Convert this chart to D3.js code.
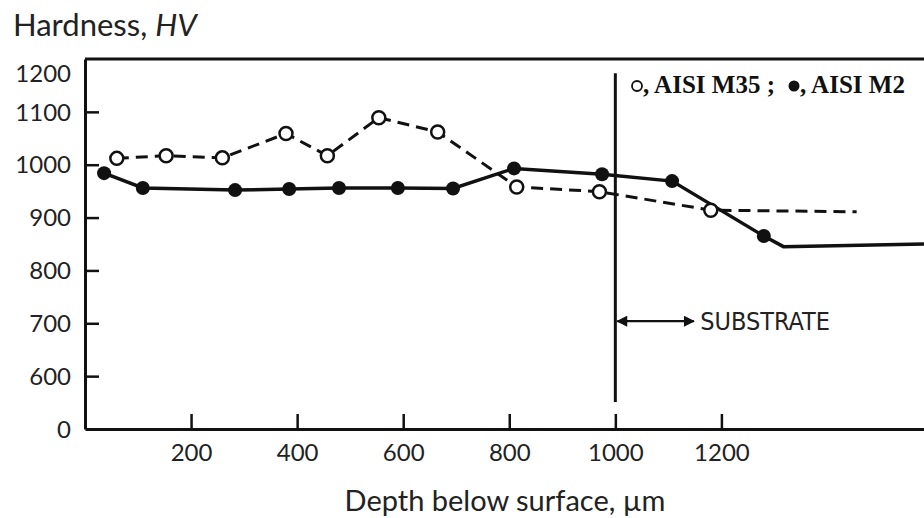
<!DOCTYPE html>
<html>
<head>
<meta charset="utf-8">
<script src="https://cdn.jsdelivr.net/npm/d3@7/dist/d3.min.js"></script>
<style>
  html, body { margin: 0; padding: 0; background: #fff; }
  svg { display: block; }
</style>
</head>
<body>
<svg id="chart" width="924" height="518"></svg>
<script>
// ---- Data ----
const depthM35 = [60, 153, 259, 379, 457, 554, 665, 814, 970, 1180, 1455];
const hvM35    = [1012, 1017, 1013, 1059, 1017, 1089, 1062, 958, 949, 914, 911];
const markM35  = [1, 1, 1, 1, 1, 1, 1, 1, 1, 1, 0];

const depthM2 = [36, 109, 283, 385, 479, 590, 694, 809, 975, 1107, 1280, 1317, 1582];
const hvM2    = [984, 956, 952, 954, 956, 956, 955, 993, 982, 969, 865, 845, 850];
const markM2  = [1, 1, 1, 1, 1, 1, 1, 1, 1, 1, 1, 0, 0];

const xTicks = [200, 400, 600, 800, 1000, 1200];
const yTicks = [500, 600, 700, 800, 900, 1000, 1100, 1200];   // 500 is the broken-axis origin, labelled "0"
const yTickLabels = ["0", "600", "700", "800", "900", "1000", "1100", "1200"];

const substrateDepth = 1000;
const yTitle = "Hardness, ";
const yTitleItalic = "HV";
const xTitle = "Depth below surface, \u00B5m";
const legendM35 = ", AISI M35 ;";
const legendM2 = ", AISI M2";
const substrateLabel = "SUBSTRATE";

// ---- Scales ----
const svg = d3.select("#chart");
const x = d3.scaleLinear().domain([0, 1582]).range([85, 924]);
const y = d3.scaleLinear().domain([500, 1200]).range([429, 59]);

const ink = "#111";
const tickFont = "Lato, 'Open Sans', sans-serif";

// ---- Axes ----
const yAxis = d3.axisLeft(y)
  .tickValues(yTicks)
  .tickFormat((d, i) => yTickLabels[i])
  .tickSizeInner(-14).tickSizeOuter(0).tickPadding(14);

const gy = svg.append("g").attr("transform", `translate(${x(0)},0)`).call(yAxis);
gy.select(".domain").attr("stroke", ink).attr("stroke-width", 3);
gy.selectAll(".tick line").attr("stroke", ink).attr("stroke-width", 2.5)
  .attr("display", d => (d === 500 || d === 1200) ? "none" : null);
gy.selectAll(".tick text")
  .attr("font-family", tickFont).attr("font-size", 24).attr("fill", "#222")
  .attr("dy", d => d === 1200 ? "0.95em" : "0.34em");

const xAxis = d3.axisBottom(x)
  .tickValues(xTicks)
  .tickFormat(d3.format("d"))
  .tickSizeInner(-15).tickSizeOuter(0).tickPadding(15);

const gx = svg.append("g").attr("transform", `translate(0,${y(500)})`).call(xAxis);
gx.select(".domain").attr("stroke", ink).attr("stroke-width", 3);
gx.selectAll(".tick line").attr("stroke", ink).attr("stroke-width", 2.5);
gx.selectAll(".tick text")
  .attr("font-family", tickFont).attr("font-size", 24).attr("fill", "#222");

// top border
svg.append("line")
  .attr("x1", x(0)).attr("x2", x(1582))
  .attr("y1", y(1200)).attr("y2", y(1200))
  .attr("stroke", ink).attr("stroke-width", 3);

// ---- Substrate boundary ----
svg.append("line")
  .attr("x1", x(substrateDepth)).attr("x2", x(substrateDepth))
  .attr("y1", y(1173)).attr("y2", y(551))
  .attr("stroke", ink).attr("stroke-width", 3);

const defs = svg.append("defs");
defs.append("marker").attr("id", "ah").attr("viewBox", "0 0 10 10")
  .attr("refX", 9).attr("refY", 5).attr("markerWidth", 7).attr("markerHeight", 5)
  .attr("markerUnits", "strokeWidth")
  .attr("orient", "auto-start-reverse")
  .append("path").attr("d", "M0,0 L10,5 L0,10 Z").attr("fill", ink);

svg.append("line")
  .attr("x1", x(substrateDepth) + 2).attr("x2", x(1148))
  .attr("y1", y(704)).attr("y2", y(704))
  .attr("stroke", ink).attr("stroke-width", 2.2)
  .attr("marker-start", "url(#ah)").attr("marker-end", "url(#ah)");

svg.append("text")
  .attr("x", x(1160)).attr("y", y(704)).attr("dy", "0.36em")
  .attr("font-family", "'DejaVu Sans Condensed', 'Liberation Sans Narrow', sans-serif")
  .attr("font-size", 25).attr("fill", "#222")
  .text(substrateLabel);

// ---- Series ----
const line = d3.line().x(d => x(d[0])).y(d => y(d[1]));
const ptsM35 = depthM35.map((d, i) => [d, hvM35[i], markM35[i]]);
const ptsM2 = depthM2.map((d, i) => [d, hvM2[i], markM2[i]]);

svg.append("path").datum(ptsM35).attr("d", line)
  .attr("fill", "none").attr("stroke", ink).attr("stroke-width", 3)
  .attr("stroke-dasharray", "12,7");

svg.append("path").datum(ptsM2).attr("d", line)
  .attr("fill", "none").attr("stroke", ink).attr("stroke-width", 3.5);

svg.append("g").selectAll("circle").data(ptsM2.filter(d => d[2]))
  .join("circle").attr("cx", d => x(d[0])).attr("cy", d => y(d[1]))
  .attr("r", 7).attr("fill", ink);

svg.append("g").selectAll("circle").data(ptsM35.filter(d => d[2]))
  .join("circle").attr("cx", d => x(d[0])).attr("cy", d => y(d[1]))
  .attr("r", 6.5).attr("fill", "#fff").attr("stroke", ink).attr("stroke-width", 2.5);

// ---- Legend ----
const legY = 85;
const serif = "'Liberation Serif', 'DejaVu Serif', serif";
svg.append("circle").attr("cx", 637).attr("cy", legY + 1).attr("r", 5)
  .attr("fill", "#fff").attr("stroke", ink).attr("stroke-width", 1.8);
svg.append("text").attr("x", 643).attr("y", legY + 8)
  .attr("font-family", serif).attr("font-weight", "bold")
  .attr("font-size", 25).attr("fill", "#111").text(legendM35);
svg.append("circle").attr("cx", 794).attr("cy", legY + 1).attr("r", 5.5).attr("fill", ink);
svg.append("text").attr("x", 800).attr("y", legY + 8)
  .attr("font-family", serif).attr("font-weight", "bold")
  .attr("font-size", 25).attr("fill", "#111").text(legendM2);

// ---- Titles ----
const t = svg.append("text").attr("x", 13).attr("y", 36)
  .attr("font-family", tickFont).attr("font-size", 31).attr("fill", "#222");
t.append("tspan").text(yTitle);
t.append("tspan").attr("font-style", "italic").text(yTitleItalic);

svg.append("text").attr("x", 505).attr("y", 511).attr("text-anchor", "middle")
  .attr("font-family", tickFont).attr("font-size", 29).attr("fill", "#222")
  .text(xTitle);
</script>
</body>
</html>
